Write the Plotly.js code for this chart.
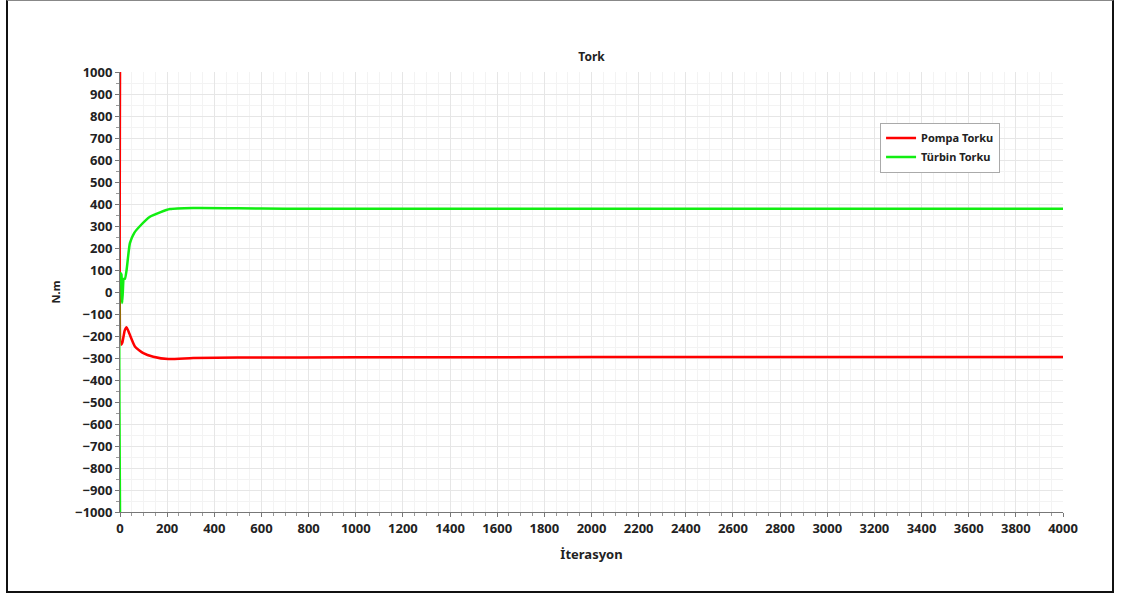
<!DOCTYPE html>
<html>
<head>
<meta charset="utf-8">
<script src="https://cdn.plot.ly/plotly-3.0.1.min.js"></script>
<style>
html,body{margin:0;padding:0;background:#fff;}
#wrap{position:relative;width:1122px;height:598px;}
#chart{position:absolute;left:0;top:0;width:1122px;height:598px;}
#frame{position:absolute;left:6px;top:0;width:1104px;height:590px;border-left:2px solid #111;border-right:2px solid #111;border-bottom:2px solid #111;border-top:1px solid #888;pointer-events:none;}
</style>
</head>
<body>
<div id="wrap"><div id="chart"></div><div id="frame"></div></div>
<script>
// Data
const pompaIter  = [0, 5, 10, 20, 28, 40, 64, 99, 141, 205, 310, 500, 1000, 2000, 3000, 4000];
const pompaTork  = [1000, -240, -230, -175, -160, -190, -249, -278, -294, -305, -300, -298, -297, -296, -296, -295];
const turbinIter = [0, 2, 6, 9, 12, 16, 21, 28, 42, 60, 85, 127, 170, 212, 310, 500, 700, 1000, 2000, 3000, 4000];
const turbinTork = [-1000, 85, 80, -50, 0, 60, 60, 100, 222, 268, 300, 342, 362, 377, 382, 381, 378, 378, 378, 378, 378];
const seriesNames = ["Pompa Torku", "Türbin Torku"];
const chartTitle = "Tork";
const xTitle = "İterasyon";
const yTitle = "N.m";

const FONT = "Noto Sans, Open Sans, DejaVu Sans, sans-serif";
const traces = [
  {x: pompaIter, y: pompaTork, name: seriesNames[0], mode: "lines",
   line: {color: "#ff0000", width: 2.5, shape: "spline", smoothing: 0.5}},
  {x: turbinIter, y: turbinTork, name: seriesNames[1], mode: "lines",
   line: {color: "#11ee11", width: 2.5, shape: "spline", smoothing: 0.5}}
];
const layout = {
  width: 1122, height: 598,
  margin: {l: 120, r: 59, t: 72, b: 86},
  paper_bgcolor: "#ffffff", plot_bgcolor: "#ffffff",
  font: {family: FONT, color: "#222", size: 12, weight: "bold"},
  title: {text: chartTitle, xref: "paper", x: 0.5, xanchor: "center", y: 1 - 57/598, yanchor: "middle",
          font: {family: FONT, size: 12, color: "#222", weight: "bold"}},
  showlegend: true,
  legend: {x: 0.806, y: 0.885, xanchor: "left", yanchor: "top",
           bgcolor: "#ffffff", bordercolor: "#aaaaaa", borderwidth: 1,
           font: {family: FONT, size: 11, color: "#222", weight: "bold"},
           itemwidth: 30, tracegroupgap: 0},
  xaxis: {range: [0, 4000], dtick: 200, tick0: 0,
          showgrid: true, gridcolor: "#e6e6e6", gridwidth: 1,
          minor: {dtick: 50, showgrid: true, gridcolor: "#f3f3f3", ticks: "outside", ticklen: 3, tickcolor: "#999"},
          showline: true, linecolor: "#777", linewidth: 1, zeroline: false,
          ticks: "outside", ticklen: 4, tickcolor: "#777",
          tickfont: {family: FONT, size: 13, color: "#222", weight: "bold"},
          title: {text: xTitle, standoff: 14, font: {family: FONT, size: 13, color: "#222", weight: "bold"}}},
  yaxis: {range: [-1000, 1000], dtick: 100, tick0: 0,
          showgrid: true, gridcolor: "#e6e6e6", gridwidth: 1,
          minor: {dtick: 50, showgrid: true, gridcolor: "#f3f3f3", ticks: "outside", ticklen: 3, tickcolor: "#999"},
          showline: true, linecolor: "#777", linewidth: 1, zeroline: false,
          ticks: "outside", ticklen: 4, tickcolor: "#777",
          tickfont: {family: FONT, size: 13, color: "#222", weight: "bold"},
          title: {text: yTitle, standoff: 12, font: {family: FONT, size: 11, color: "#222", weight: "bold"}}}
};
Plotly.newPlot("chart", traces, layout, {displayModeBar: false, staticPlot: true});
</script>
</body>
</html>
